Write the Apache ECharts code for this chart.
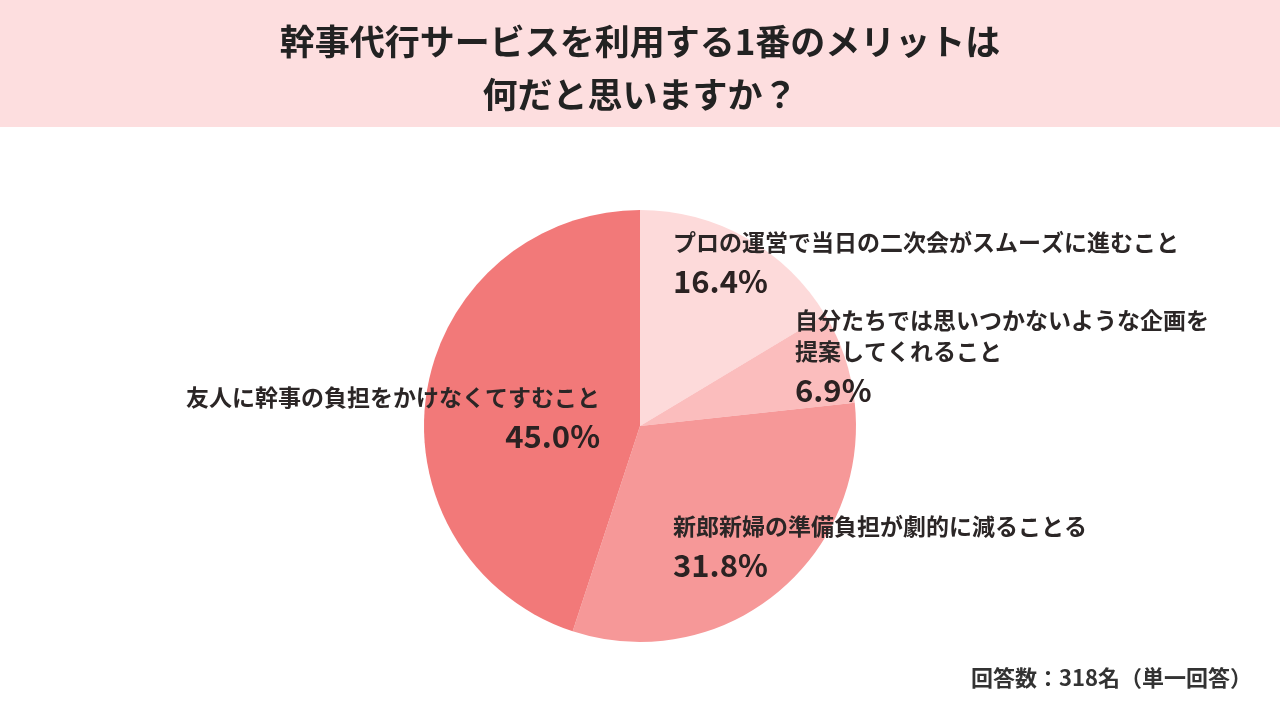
<!DOCTYPE html>
<html><head><meta charset="utf-8">
<script src="https://cdn.jsdelivr.net/npm/echarts@6/dist/echarts.min.js"></script>
<style>html,body{margin:0;padding:0;background:#fff}#c{width:1280px;height:720px}</style>
</head><body><div id="c"></div>
<script>
const titleText = '幹事代行サービスを利用する1番のメリットは\n何だと思いますか？';
const categories = [
  'プロの運営で当日の二次会がスムーズに進むこと',
  '自分たちでは思いつかないような企画を\n提案してくれること',
  '新郎新婦の準備負担が劇的に減ることる',
  '友人に幹事の負担をかけなくてすむこと'
];
const values = [16.4, 6.9, 31.8, 45.0];
const sliceColors = ['#FDDADA', '#FBBDBD', '#F69898', '#F27979'];
const footnote = '回答数：318名（単一回答）';

const FONT = '"Noto Sans CJK JP", "Noto Sans", sans-serif';
const labelPos = [
  {x: 673, y: 227, align: 'left'},
  {x: 795, y: 305, align: 'left'},
  {x: 673, y: 511, align: 'left'},
  {x: 600, y: 382, align: 'right'}
];

const chart = echarts.init(document.getElementById('c'));
chart.setOption({
  backgroundColor: '#ffffff',
  animation: false,
  graphic: [{
    type: 'rect', left: 0, top: 0, z: -1,
    shape: {width: 1280, height: 127},
    style: {fill: '#FDDEDF'}
  }],
  title: [{
    text: titleText, left: 'center', top: 10,
    textStyle: {fontFamily: FONT, fontSize: 35, fontWeight: 'bold', color: '#222', lineHeight: 53}
  }, {
    text: footnote, right: 23, top: 662,
    textStyle: {fontFamily: FONT, fontSize: 22, fontWeight: 'bold', color: '#333'}
  }],
  series: [{
    type: 'pie',
    center: [640, 426],
    radius: [0, 216],
    startAngle: 90,
    clockwise: true,
    silent: true,
    data: categories.map((n, i) => ({name: n, value: values[i], itemStyle: {color: sliceColors[i]}})),
    label: {
      show: true,
      position: 'inside',
      fontFamily: FONT,
      formatter: p => p.name.split('\n').map(s => '{n|' + s + '}').join('\n') + '\n{v|' + p.value.toFixed(1) + '%}',
      rich: {
        n: {fontFamily: FONT, fontSize: 23, fontWeight: 'bold', color: '#2b2626', lineHeight: 31},
        v: {fontFamily: FONT, fontSize: 31, fontWeight: 'bold', color: '#2b2222', lineHeight: 47}
      }
    },
    labelLine: {show: false},
    labelLayout: p => {
      const q = labelPos[p.dataIndex];
      return {x: q.x, y: q.y, align: q.align, verticalAlign: 'top'};
    }
  }]
});
</script></body></html>
